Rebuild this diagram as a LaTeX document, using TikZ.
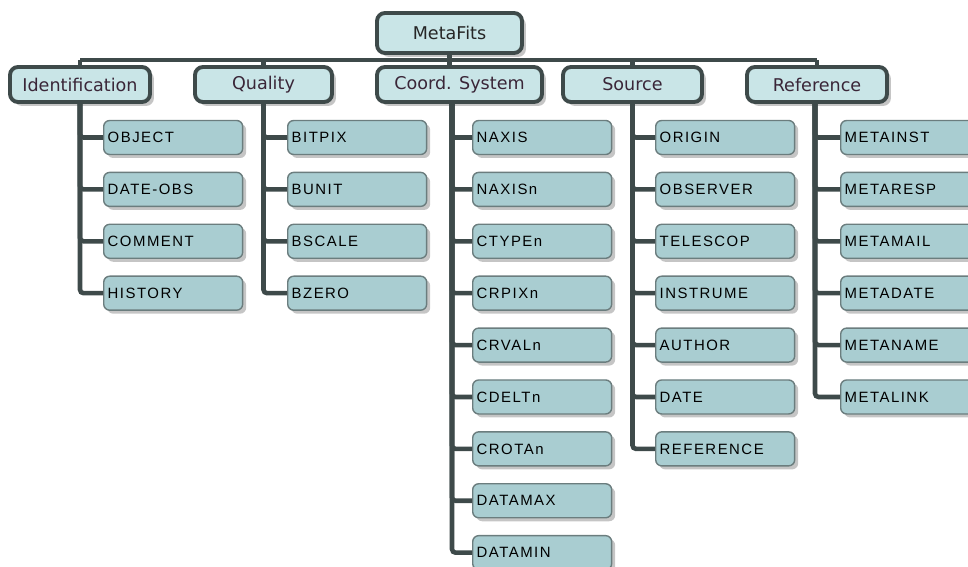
\documentclass[tikz,border=0pt]{standalone}
\usepackage{fontspec}
\setmainfont{DejaVu Sans}
\newfontfamily\keyfont[LetterSpace=10]{Liberation Sans}
\usetikzlibrary{positioning, shadows}
\definecolor{boxline}{HTML}{3E4A4A}
\definecolor{headfill}{HTML}{C9E5E7}
\definecolor{keyfill}{HTML}{A9CDD1}
\definecolor{keyline}{HTML}{6B7D7E}
\definecolor{headtext}{HTML}{3A2638}

\begin{document}
\begin{tikzpicture}[
    x=0.02cm, y=-0.02cm,
    node distance=0.33cm,
    head/.style={rectangle, draw=boxline, line width=2.2pt, fill=headfill, rounded corners=0.16cm, minimum height=0.7cm, font=\fontsize{10}{12}\selectfont, text=headtext, drop shadow={shadow xshift=0.08cm, shadow yshift=-0.08cm, fill=black!45, opacity=0.5}},
    key/.style={rectangle, draw=keyline, line width=0.8pt, fill=keyfill, rounded corners=0.12cm, minimum height=0.68cm, text width=2.62cm, inner xsep=0.08cm, align=left, font=\keyfont\fontsize{8.5}{10}\selectfont, drop shadow={shadow xshift=0.07cm, shadow yshift=-0.07cm, fill=black!45, opacity=0.5}},
    link/.style={draw=boxline, line width=2.6pt, rounded corners=2pt}
]
\useasboundingbox (0,0) rectangle (968,567);
\clip (0,0) rectangle (968,567);

% Root and header row
\node[head, minimum width=2.9cm, minimum height=0.8cm, text=black!85] (root) at (449.5,33) {MetaFits};
\coordinate (bar) at (0,60);
\node[head, minimum width=2.8cm] (ident) at (80,84.5) {Identification};
\node[head, minimum width=2.74cm] (qual) at (263.5,84.5) {Quality};
\node[head, minimum width=3.3cm] (coord) at (459.5,84.5) {Coord. System};
\node[head, minimum width=2.78cm] (src) at (632.5,84.5) {Source};
\node[head, minimum width=2.8cm] (refer) at (817,84.5) {Reference};

% Identification keys
\node[key, anchor=west] (object) at (103,137.5) {OBJECT};
\node[key, below=of object] (dateobs) {DATE-OBS};
\node[key, below=of dateobs] (comment) {COMMENT};
\node[key, below=of comment] (history) {HISTORY};

% Quality keys
\node[key, anchor=west] (bitpix) at (287,137.5) {BITPIX};
\node[key, below=of bitpix] (bunit) {BUNIT};
\node[key, below=of bunit] (bscale) {BSCALE};
\node[key, below=of bscale] (bzero) {BZERO};

% Coordinate keys
\node[key, anchor=west] (naxis) at (472,137.5) {NAXIS};
\node[key, below=of naxis] (naxisn) {NAXISn};
\node[key, below=of naxisn] (ctypen) {CTYPEn};
\node[key, below=of ctypen] (crpixn) {CRPIXn};
\node[key, below=of crpixn] (crvaln) {CRVALn};
\node[key, below=of crvaln] (cdeltn) {CDELTn};
\node[key, below=of cdeltn] (crotan) {CROTAn};
\node[key, below=of crotan] (datamax) {DATAMAX};
\node[key, below=of datamax] (datamin) {DATAMIN};

% Source keys
\node[key, anchor=west] (origin) at (655,137.5) {ORIGIN};
\node[key, below=of origin] (observer) {OBSERVER};
\node[key, below=of observer] (telescop) {TELESCOP};
\node[key, below=of telescop] (instrume) {INSTRUME};
\node[key, below=of instrume] (author) {AUTHOR};
\node[key, below=of author] (date) {DATE};
\node[key, below=of date] (srcref) {REFERENCE};

% Reference keys
\node[key, anchor=west] (metainst) at (840,137.5) {METAINST};
\node[key, below=of metainst] (metaresp) {METARESP};
\node[key, below=of metaresp] (metamail) {METAMAIL};
\node[key, below=of metamail] (metadate) {METADATE};
\node[key, below=of metadate] (metaname) {METANAME};
\node[key, below=of metaname] (metalink) {METALINK};

% Top bar
\draw[link] (ident.north |- bar) -- (refer.north |- bar);
\draw[link] (root.south) -- (root.south |- coord.north);
\draw[link] (ident.north) -- (ident.north |- bar);
\draw[link] (qual.north) -- (qual.north |- bar);
\draw[link] (src.north) -- (src.north |- bar);
\draw[link] (refer.north) -- (refer.north |- bar);

% Branches
\draw[link] (ident.south) |- (object.west);
\draw[link] (ident.south) |- (dateobs.west);
\draw[link] (ident.south) |- (comment.west);
\draw[link] (ident.south) |- (history.west);
\draw[link] (qual.south) |- (bitpix.west);
\draw[link] (qual.south) |- (bunit.west);
\draw[link] (qual.south) |- (bscale.west);
\draw[link] (qual.south) |- (bzero.west);
\draw[link] ([xshift=-0.15cm]coord.south) |- (naxis.west);
\draw[link] ([xshift=-0.15cm]coord.south) |- (naxisn.west);
\draw[link] ([xshift=-0.15cm]coord.south) |- (ctypen.west);
\draw[link] ([xshift=-0.15cm]coord.south) |- (crpixn.west);
\draw[link] ([xshift=-0.15cm]coord.south) |- (crvaln.west);
\draw[link] ([xshift=-0.15cm]coord.south) |- (cdeltn.west);
\draw[link] ([xshift=-0.15cm]coord.south) |- (crotan.west);
\draw[link] ([xshift=-0.15cm]coord.south) |- (datamax.west);
\draw[link] ([xshift=-0.15cm]coord.south) |- (datamin.west);
\draw[link] (src.south) |- (origin.west);
\draw[link] (src.south) |- (observer.west);
\draw[link] (src.south) |- (telescop.west);
\draw[link] (src.south) |- (instrume.west);
\draw[link] (src.south) |- (author.west);
\draw[link] (src.south) |- (date.west);
\draw[link] (src.south) |- (srcref.west);
\draw[link] ([xshift=-0.04cm]refer.south) |- (metainst.west);
\draw[link] ([xshift=-0.04cm]refer.south) |- (metaresp.west);
\draw[link] ([xshift=-0.04cm]refer.south) |- (metamail.west);
\draw[link] ([xshift=-0.04cm]refer.south) |- (metadate.west);
\draw[link] ([xshift=-0.04cm]refer.south) |- (metaname.west);
\draw[link] ([xshift=-0.04cm]refer.south) |- (metalink.west);

\end{tikzpicture}
\end{document}
